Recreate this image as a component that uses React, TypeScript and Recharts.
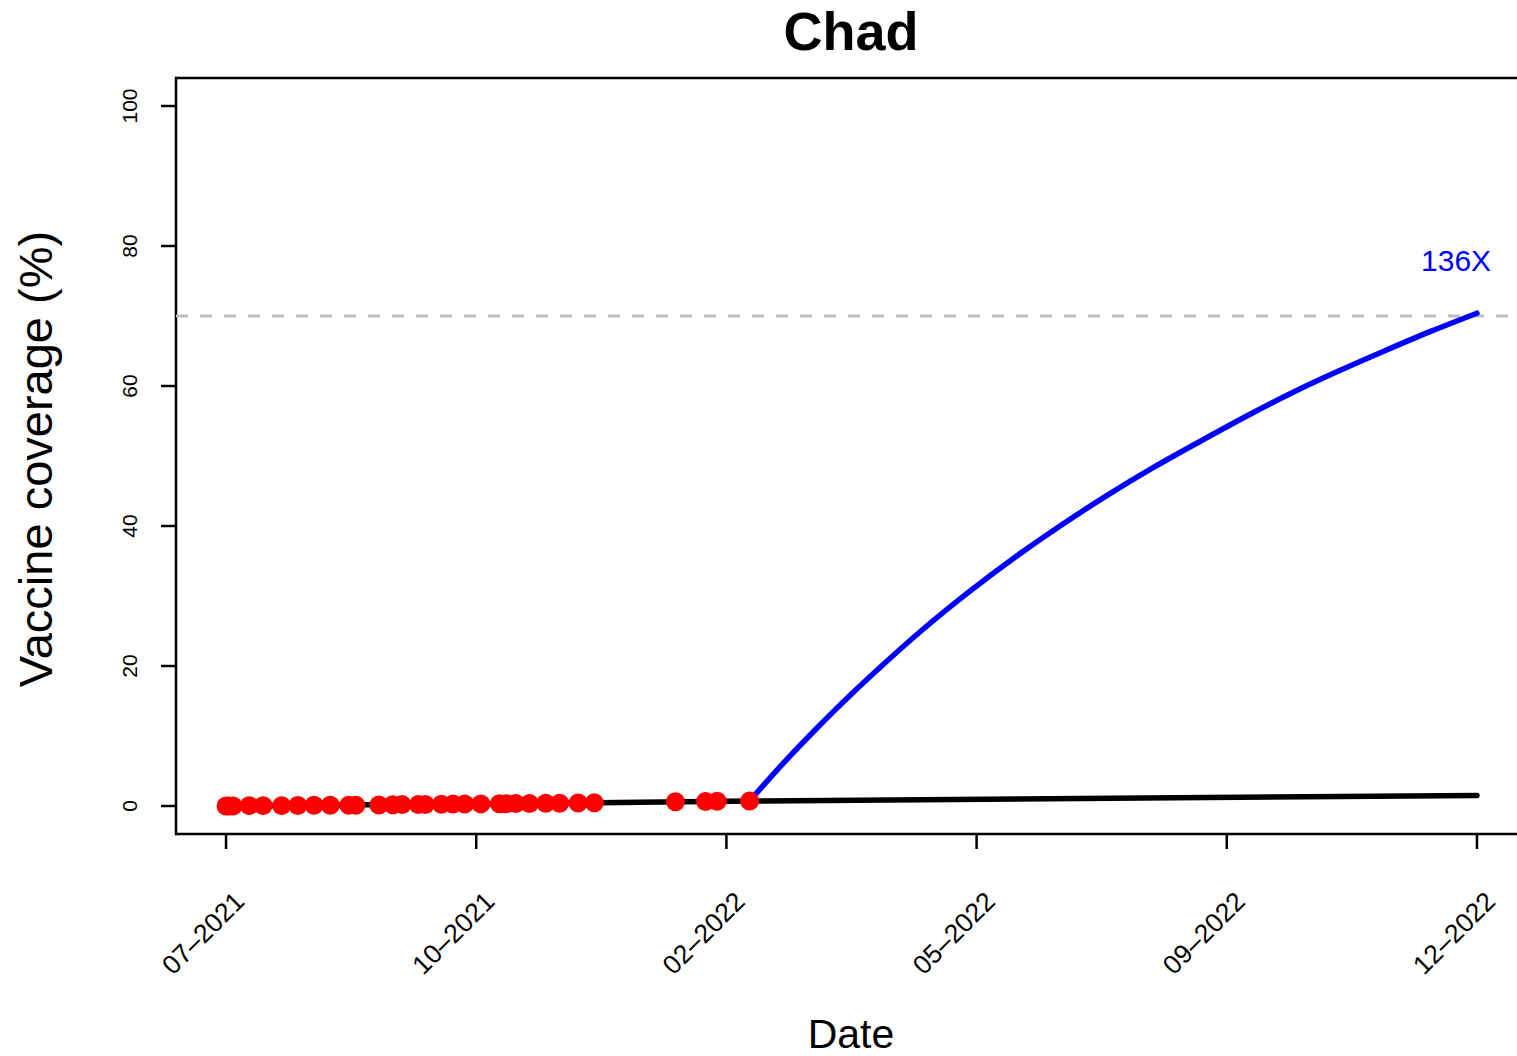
import React from 'react';
import {
  ComposedChart,
  Line,
  Scatter,
  XAxis,
  YAxis,
  ReferenceLine,
  ReferenceArea,
  ReferenceDot,
} from 'recharts';

// x = days since the first tick (07-2021), y = vaccine coverage (%)
const xTickDays = [0, 108, 216, 324, 432, 540];
const xTickLabels = ['07\u20132021', '10\u20132021', '02\u20132022', '05\u20132022', '09\u20132022', '12\u20132022'];
const yTicks = [0, 20, 40, 60, 80, 100];

const observedDays = [0, 1, 3, 10, 16, 24, 31, 38, 45, 53, 56, 66, 72, 76, 83, 86, 93, 98, 103, 110, 118, 121, 125, 131, 138, 144, 152, 159, 194, 207, 212, 226];
const observedCoverage = [0, 0, 0, 0.05, 0.05, 0.05, 0.08, 0.1, 0.1, 0.12, 0.12, 0.15, 0.18, 0.2, 0.2, 0.22, 0.25, 0.27, 0.28, 0.3, 0.32, 0.33, 0.35, 0.36, 0.38, 0.4, 0.42, 0.45, 0.6, 0.65, 0.67, 0.7];

const trendDays = [0, 100, 160, 226, 540];
const trendCoverage = [0, 0.3, 0.45, 0.7, 1.5];

const projDays = [226, 240, 255, 270, 285, 300, 320, 340, 360, 380, 400, 420, 440, 460, 480, 500, 520, 540];
const projCoverage = [0.7, 5.9, 11.1, 16.0, 20.6, 25.0, 30.4, 35.4, 40.0, 44.3, 48.3, 52.0, 55.6, 59.0, 62.1, 65.0, 67.8, 70.4];

const targetCoverage = 70;
const speedupLabel = '136X';
const title = 'Chad';

const observed = observedDays.map((d, i) => ({ d, v: observedCoverage[i] }));
const trend = trendDays.map((d, i) => ({ d, v: trendCoverage[i] }));
const projection = projDays.map((d, i) => ({ d, v: projCoverage[i] }));

const FONT = '"Liberation Sans", Arial, Helvetica, sans-serif';

const XTick = (props: any) => {
  const { x, y, payload } = props;
  const idx = xTickDays.indexOf(payload.value);
  return (
    <text
      transform={`translate(${x + 20},${y + 52}) rotate(-45)`}
      textAnchor="end"
      fontSize={26.5}
      fontFamily={FONT}
      fill="#000"
    >
      {xTickLabels[idx]}
    </text>
  );
};

const YTick = (props: any) => {
  const { x, y, payload } = props;
  return (
    <text
      transform={`translate(${x - 22},${y}) rotate(-90)`}
      textAnchor="middle"
      fontSize={21}
      fontFamily={FONT}
      fill="#000"
    >
      {payload.value}
    </text>
  );
};

export default function App() {
  return (
    <div
      style={{
        position: 'absolute',
        left: 0,
        top: 0,
        width: 1517,
        height: 1056,
        overflow: 'hidden',
        background: '#fff',
      }}
    >
      <ComposedChart
        width={1560}
        height={1056}
        margin={{ top: 78, right: 33, bottom: 0, left: 0 }}
      >
        <XAxis
          dataKey="d"
          type="number"
          domain={[-21.6, 561.6]}
          ticks={xTickDays}
          allowDataOverflow
          axisLine={false}
          tickLine={{ stroke: '#000', strokeWidth: 2.5 }}
          tickSize={15}
          tickMargin={2}
          height={222}
          tick={<XTick />}
          interval={0}
        />
        <YAxis
          dataKey="v"
          type="number"
          domain={[-4, 104]}
          ticks={yTicks}
          allowDataOverflow
          axisLine={false}
          tickLine={{ stroke: '#000', strokeWidth: 2.5 }}
          tickSize={15}
          tickMargin={2}
          width={176}
          tick={<YTick />}
          interval={0}
        />
        <ReferenceLine
          y={targetCoverage}
          stroke="#BEBEBE"
          strokeWidth={3}
          strokeDasharray="12 12"
        />
        <Line
          data={trend}
          dataKey="v"
          type="linear"
          stroke="#000"
          strokeWidth={5.5}
          strokeLinecap="round"
          dot={false}
          activeDot={false}
          isAnimationActive={false}
        />
        <Line
          data={projection}
          dataKey="v"
          type="natural"
          stroke="#0000FF"
          strokeWidth={5.5}
          strokeLinecap="round"
          dot={false}
          activeDot={false}
          isAnimationActive={false}
        />
        <Scatter
          data={observed}
          dataKey="v"
          isAnimationActive={false}
          shape={(p: any) => <circle cx={p.cx} cy={p.cy} r={9.5} fill="#FF0000" />}
        />
        <ReferenceDot
          x={531}
          y={77.9}
          r={0}
          fill="none"
          stroke="none"
          label={{
            value: speedupLabel,
            position: 'center',
            fill: '#0000FF',
            fontSize: 30,
            fontFamily: FONT,
          }}
        />
        <ReferenceArea
          x1={-21.6}
          x2={561.6}
          y1={-4}
          y2={104}
          fill="none"
          fillOpacity={0}
          stroke="#000"
          strokeWidth={2.5}
          ifOverflow="visible"
        />
      </ComposedChart>
      <svg
        width={1517}
        height={1056}
        style={{ position: 'absolute', left: 0, top: 0, pointerEvents: 'none' }}
      >
        <text x={851} y={50} textAnchor="middle" fontSize={54} fontWeight="bold" fontFamily={FONT} fill="#000">
          {title}
        </text>
        <text x={851} y={1048} textAnchor="middle" fontSize={41} fontFamily={FONT} fill="#000">
          Date
        </text>
        <text
          transform="translate(52,459) rotate(-90)"
          textAnchor="middle"
          fontSize={47}
          fontFamily={FONT}
          fill="#000"
        >
          Vaccine coverage (%)
        </text>
      </svg>
    </div>
  );
}
